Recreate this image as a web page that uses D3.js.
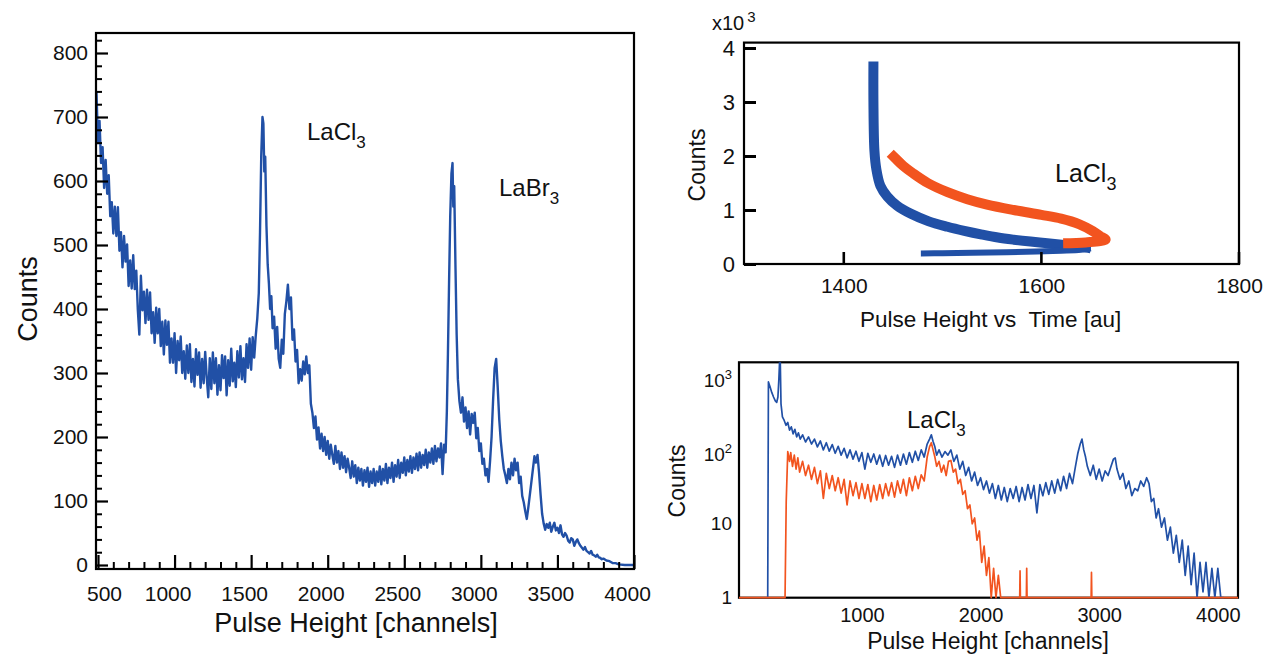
<!DOCTYPE html>
<html>
<head>
<meta charset="utf-8">
<script src="https://cdn.jsdelivr.net/npm/d3@7"></script>
<style>
  body { margin: 0; background: #fff; }
  svg text { font-family: "Liberation Sans", Arial, sans-serif; fill: #111; }
</style>
</head>
<body>
<div id="main"></div>
<script>
// ---- left panel: spectrum [channel, counts]
const leftTicksX = [500, 1000, 1500, 2000, 2500, 3000, 3500, 4000];
const leftTicksY = [0, 100, 200, 300, 400, 500, 600, 700, 800];
const leftSpectrum = [
  [490,740],[500,659],[510,694],[520,628],[530,653],[540,589],[550,633],[560,580],[570,609],[580,545],
  [590,567],[600,518],[610,560],[620,514],[630,559],[640,491],[650,520],[660,465],[670,514],[680,474],
  [690,501],[700,436],[710,476],[720,432],[730,484],[740,431],[750,460],[760,399],[770,360],[780,452],
  [790,398],[800,427],[810,378],[820,430],[830,383],[840,426],[850,362],[860,395],[870,347],[880,402],
  [890,362],[900,400],[910,342],[920,380],[930,329],[940,382],[950,344],[960,380],[970,316],[980,354],
  [990,316],[1000,362],[1010,300],[1020,350],[1030,320],[1040,357],[1050,300],[1060,334],[1070,291],[1080,343],
  [1090,300],[1100,345],[1110,286],[1120,322],[1130,279],[1140,337],[1150,297],[1160,332],[1170,277],[1180,322],
  [1190,284],[1200,333],[1210,293],[1220,262],[1230,323],[1240,275],[1250,332],[1260,284],[1270,323],[1280,266],
  [1290,312],[1300,273],[1310,328],[1320,292],[1330,326],[1340,265],[1350,320],[1360,280],[1370,338],[1380,287],
  [1390,316],[1400,278],[1410,334],[1420,293],[1430,342],[1440,290],[1450,323],[1460,286],[1470,345],[1480,308],
  [1490,354],[1500,305],[1510,356],[1520,324],[1530,358],[1540,385],[1550,425],[1558,520],
  [1566,640],[1574,700],[1580,690],[1586,615],[1592,638],[1600,530],[1608,470],[1616,440],[1624,400],[1632,420],
  [1640,370],[1650,388],[1660,338],[1670,372],[1680,322],[1690,308],[1700,352],[1710,330],[1720,392],[1730,412],
  [1740,438],[1750,400],[1760,418],[1770,352],[1780,368],[1790,318],[1800,336],[1810,284],[1820,306],[1830,288],
  [1840,318],[1850,298],[1860,326],[1870,300],[1880,312],[1890,252],[1900,238],[1910,214],[1920,232],[1930,196],
  [1940,215],[1950,182],[1960,205],[1970,178],[1980,200],[1990,172],[2000,194],[2010,166],[2020,188],[2030,172],
  [2040,158],[2050,186],[2060,160],[2070,178],[2080,150],[2090,176],[2100,152],[2110,170],[2120,145],[2130,166],
  [2140,152],[2150,136],[2160,162],[2170,138],[2180,156],[2190,128],[2200,152],[2210,132],[2220,150],[2230,124],
  [2240,148],[2250,130],[2260,152],[2270,122],[2280,146],[2290,128],[2300,150],[2310,124],[2320,146],[2330,130],
  [2340,154],[2350,126],[2360,150],[2370,132],[2380,158],[2390,128],[2400,152],[2410,136],[2420,160],[2430,130],
  [2440,156],[2450,138],[2460,164],[2470,136],[2480,160],[2490,144],[2500,168],[2510,140],[2520,164],[2530,146],
  [2540,170],[2550,144],[2560,168],[2570,150],[2580,174],[2590,148],[2600,176],[2610,152],[2620,172],[2630,156],
  [2640,180],[2650,152],[2660,176],[2670,160],[2680,182],[2690,158],[2700,186],[2710,162],[2720,182],[2730,168],
  [2740,190],[2750,142],[2760,188],[2770,176],[2778,240],[2785,330],[2793,450],[2800,545],[2808,612],[2815,628],
  [2820,560],[2826,592],[2834,470],[2842,360],[2850,290],[2860,256],[2870,238],[2880,262],[2890,224],[2900,246],
  [2910,214],[2920,240],[2930,204],[2940,236],[2950,222],[2960,238],[2970,198],[2980,214],[2990,178],[3000,190],
  [3010,158],[3020,166],[3030,140],[3040,150],[3050,130],[3060,162],[3070,200],[3080,258],[3090,308],[3100,322],
  [3110,278],[3120,228],[3130,194],[3140,170],[3150,150],[3160,140],[3170,128],[3180,150],[3190,134],[3200,160],
  [3210,140],[3220,166],[3230,148],[3240,160],[3250,128],[3260,138],[3270,108],[3280,98],[3290,84],[3300,72],
  [3310,90],[3320,110],[3330,130],[3340,150],[3350,170],[3360,160],[3370,172],[3380,144],[3390,110],[3400,80],
  [3410,65],[3420,55],[3430,64],[3440,58],[3450,66],[3460,52],[3470,60],[3480,66],[3490,54],[3500,58],
  [3510,50],[3520,62],[3530,48],[3540,44],[3550,50],[3560,46],[3570,38],[3580,35],[3590,42],[3600,40],
  [3610,30],[3620,36],[3630,40],[3640,34],[3650,30],[3660,27],[3670,24],[3680,28],[3690,22],[3700,20],
  [3710,18],[3720,22],[3730,16],[3740,15],[3750,13],[3760,16],[3770,12],[3780,11],[3790,9],[3800,10],
  [3820,7],[3840,6],[3860,3],[3880,3],[3900,1],[3940,0],[4000,0]
];

// ---- top right panel: pulse height vs time [time, counts]
const trTicksX = [1400, 1600, 1800];
const trTicksY = [0, 1000, 2000, 3000, 4000];
const trBlueHook = [
  [1430,3750],[1430,3000],[1431,2100],[1433,1750],[1437,1450],[1444,1250],[1454,1080],[1468,930],
  [1486,790],[1505,690],[1522,615],[1540,545],[1556,490],[1572,450],[1589,415],[1606,385],[1623,352],
  [1640,318],[1650,290]
];
const trBlueTail = [
  [1650,290],[1640,262],[1620,245],[1595,230],[1565,218],[1530,208],[1500,200],[1478,196]
];
const trOrange = [
  [1447,2050],[1452,1960],[1460,1820],[1470,1680],[1485,1500],[1505,1330],[1525,1200],[1545,1100],
  [1572,1000],[1600,910],[1620,840],[1638,740],[1652,610],[1661,500],[1665,450],[1645,400],[1622,385]
];

// ---- bottom right panel: log spectra [channel, counts]
const brTicksX = [1000, 2000, 3000, 4000];
const brTicksY = [1, 10, 100, 1000];
const brBlue = [
  [206,1],[212,830],[225,720],[240,600],[255,520],[270,460],[282,440],[292,520],[300,900],[306,1550],
  [312,1550],[318,420],[330,280],[345,250],[360,215],[375,235],[390,185],[405,205],[420,165],[435,190],
  [450,150],[465,170],[480,140],[500,160],[525,128],[550,150],[575,120],[600,140],[625,110],[650,132],
  [675,100],[700,125],[725,96],[750,118],[775,90],[800,112],[825,85],[850,105],[875,78],[900,100],
  [925,75],[950,96],[975,70],[1000,92],[1025,55],[1050,90],[1075,68],[1100,88],[1125,64],[1150,85],
  [1175,60],[1200,84],[1225,62],[1250,82],[1275,58],[1300,85],[1325,62],[1350,88],[1375,64],[1400,92],
  [1425,68],[1450,96],[1475,72],[1500,100],[1525,80],[1550,120],[1570,140],[1585,160],[1600,130],[1615,110],
  [1630,85],[1650,100],[1675,80],[1700,95],[1725,85],[1750,100],[1775,70],[1800,85],[1825,55],[1850,70],
  [1875,45],[1900,58],[1925,38],[1950,50],[1975,33],[2000,42],[2025,29],[2050,38],[2075,26],[2100,35],
  [2125,22],[2150,33],[2175,21],[2200,31],[2225,20],[2250,30],[2275,22],[2300,32],[2325,20],[2350,31],
  [2375,21],[2400,34],[2425,22],[2450,33],[2475,14],[2500,34],[2525,24],[2550,36],[2575,25],[2600,38],
  [2625,26],[2650,40],[2675,28],[2700,44],[2725,30],[2750,48],[2775,35],[2800,60],[2820,90],[2840,120],
  [2855,140],[2870,100],[2885,80],[2900,60],[2925,45],[2950,62],[2975,40],[3000,55],[3025,38],[3050,52],
  [3075,45],[3100,60],[3120,75],[3135,78],[3150,55],[3175,40],[3200,48],[3225,30],[3250,38],[3275,24],
  [3300,30],[3325,28],[3350,38],[3375,32],[3400,42],[3420,35],[3440,20],[3460,22],[3480,12],[3500,16],
  [3525,9],[3550,12],[3575,6],[3600,9],[3625,4],[3650,7],[3675,3],[3700,6],[3725,2],[3750,5],
  [3775,1.5],[3800,4],[3825,1],[3850,3],[3875,1.2],[3900,3],[3925,1],[3950,2.5],[3975,1],[4000,2.5],
  [4025,1],[4050,1]
];
const brOrange = [
  [-36,1],[352,1],[362,20],[375,95],[390,70],[400,92],[415,60],[430,85],[445,55],[460,78],
  [475,50],[500,70],[525,45],[550,62],[575,40],[600,58],[625,35],[650,52],[675,22],[700,48],
  [725,30],[750,45],[775,28],[800,42],[825,26],[850,40],[875,18],[900,38],[925,24],[950,36],
  [975,22],[1000,35],[1025,22],[1050,34],[1075,20],[1100,33],[1125,21],[1150,34],[1175,22],[1200,35],
  [1225,24],[1250,36],[1275,23],[1300,38],[1325,26],[1350,40],[1375,24],[1400,42],[1425,28],[1450,44],
  [1475,30],[1500,46],[1525,38],[1550,80],[1570,110],[1585,125],[1600,100],[1615,80],[1630,60],[1650,70],
  [1670,50],[1690,62],[1710,45],[1730,70],[1750,72],[1770,50],[1790,55],[1810,35],[1830,40],[1850,25],
  [1870,28],[1890,16],[1910,18],[1930,10],[1950,12],[1970,6],[1990,8],[2010,3],[2030,5],[2050,2],
  [2070,3.5],[2090,1],[2110,2.5],[2130,1],[2150,2],[2170,1],[2330,1],[2333,2.3],[2336,1],[2386,1],
  [2389,2.5],[2392,1],[2932,1],[2935,2.2],[2938,1],[4170,1]
];

const blue = '#2150a6';
const orange = '#f2541f';

const svg = d3.select('#main').append('svg')
  .attr('width', 1268)
  .attr('height', 657);

function clip(id, x0, y0, x1, y1) {
  svg.append('clipPath').attr('id', id)
    .append('rect').attr('x', x0).attr('y', y0).attr('width', x1 - x0).attr('height', y1 - y0);
}

function frame(x0, y0, x1, y1) {
  svg.append('rect')
    .attr('x', x0).attr('y', y0).attr('width', x1 - x0).attr('height', y1 - y0)
    .attr('fill', 'none').attr('stroke', '#000').attr('stroke-width', 2.2);
}

function label(x, y, main, sub, size, subSize, shift) {
  const t = svg.append('text').attr('x', x).attr('y', y).attr('font-size', size);
  t.append('tspan').text(main);
  t.append('tspan').attr('font-size', subSize).attr('dy', shift).text(sub);
  return t;
}

function cleanAxis(g, size, width) {
  g.select('.domain').remove();
  g.selectAll('line').attr('stroke', '#000').attr('stroke-width', width);
  g.selectAll('text').attr('font-size', size).attr('fill', '#111')
    .style('font-family', '"Liberation Sans", Arial, sans-serif');
}

// ================= left panel =================
const L = { x0: 96, x1: 634, y0: 33, y1: 569 };
const xL = d3.scaleLinear().domain([487, 4000]).range([L.x0, L.x1]);
const yL = d3.scaleLinear().domain([-6.25, 831.25]).range([L.y1, L.y0]);

clip('clipL', L.x0, L.y0, L.x1, L.y1);
svg.append('path')
  .datum(leftSpectrum)
  .attr('clip-path', 'url(#clipL)')
  .attr('fill', 'none')
  .attr('stroke', blue)
  .attr('stroke-width', 2.4)
  .attr('stroke-linejoin', 'round')
  .attr('d', d3.line().x(d => xL(d[0])).y(d => yL(d[1])));

const gLx = svg.append('g').attr('transform', `translate(0,${L.y1})`)
  .call(d3.axisBottom(xL).tickValues(leftTicksX).tickSize(-14).tickFormat(d3.format('d')));
cleanAxis(gLx, 21, 2.2);
gLx.selectAll('text').attr('y', 32).attr('dy', 0).attr('dx', d => d === 500 ? 6 : -7);

const gLxm = svg.append('g').attr('transform', `translate(0,${L.y1})`)
  .call(d3.axisBottom(xL).tickValues(d3.range(600, 4000, 100).filter(v => v % 500)).tickSize(-7).tickFormat(''));
cleanAxis(gLxm, 21, 2);

const gLy = svg.append('g').attr('transform', `translate(${L.x0},0)`)
  .call(d3.axisLeft(yL).tickValues(leftTicksY).tickSize(-12).tickPadding(8));
cleanAxis(gLy, 21, 2.2);

const gLym = svg.append('g').attr('transform', `translate(${L.x0},0)`)
  .call(d3.axisLeft(yL).tickValues(d3.range(20, 831, 20).filter(v => v % 100)).tickSize(-6).tickFormat(''));
cleanAxis(gLym, 21, 2);

frame(L.x0, L.y0, L.x1, L.y1);

svg.append('text').attr('x', 356).attr('y', 632).attr('text-anchor', 'middle')
  .attr('font-size', 27).text('Pulse Height [channels]');
svg.append('text').attr('transform', 'translate(37,299) rotate(-90)').attr('text-anchor', 'middle')
  .attr('font-size', 27).text('Counts');

label(307, 140, 'LaCl', '3', 24, 17, 8);
label(499, 196, 'LaBr', '3', 24, 17, 8);

// ================= top right panel =================
const T = { x0: 744, x1: 1239, y0: 42.6, y1: 264 };
const xT = d3.scaleLinear().domain([1299, 1800]).range([T.x0, T.x1]);
const yT = d3.scaleLinear().domain([0, 4100]).range([T.y1, T.y0]);

clip('clipT', T.x0, T.y0, T.x1, T.y1);
const lineT = d3.line().x(d => xT(d[0])).y(d => yT(d[1])).curve(d3.curveCatmullRom);
const gT = svg.append('g').attr('clip-path', 'url(#clipT)');
gT.append('path').datum(trBlueHook)
  .attr('fill', 'none').attr('stroke', blue).attr('stroke-width', 10).attr('stroke-linejoin', 'round')
  .attr('d', lineT);
gT.append('path').datum(trBlueTail)
  .attr('fill', 'none').attr('stroke', blue).attr('stroke-width', 6).attr('stroke-linejoin', 'round')
  .attr('d', lineT);
gT.append('path').datum(trOrange)
  .attr('fill', 'none').attr('stroke', orange).attr('stroke-width', 10).attr('stroke-linejoin', 'round')
  .attr('d', lineT);

const gTx = svg.append('g').attr('transform', `translate(0,${T.y1})`)
  .call(d3.axisBottom(xT).tickValues(trTicksX).tickSize(0).tickFormat(d3.format('d')));
cleanAxis(gTx, 21, 2.6);
gTx.selectAll('text').attr('y', 29).attr('dy', 0);
// inward ticks on the time axis
svg.append('g').selectAll('line')
  .data(trTicksX)
  .join('line')
  .attr('x1', d => xT(d)).attr('x2', d => xT(d))
  .attr('y1', T.y1).attr('y2', T.y1 - 12)
  .attr('stroke', '#000').attr('stroke-width', 2.6);

const gTy = svg.append('g').attr('transform', `translate(${T.x0},0)`)
  .call(d3.axisLeft(yT).tickValues(trTicksY).tickSize(-12).tickPadding(9).tickFormat(d => d / 1000));
cleanAxis(gTy, 22, 3);

frame(T.x0, T.y0, T.x1, T.y1);

const mult = svg.append('text').attr('x', 712).attr('y', 30).attr('font-size', 20);
mult.append('tspan').text('x10');
mult.append('tspan').attr('font-size', 15).attr('dx', 3).attr('dy', -8).text('3');

svg.append('text').attr('x', 860).attr('y', 327).attr('font-size', 22.5)
  .attr('xml:space', 'preserve').style('white-space', 'pre')
  .text('Pulse Height vs  Time [au]');
svg.append('text').attr('transform', 'translate(705,165) rotate(-90)').attr('text-anchor', 'middle')
  .attr('font-size', 23).text('Counts');

label(1055, 182, 'LaCl', '3', 25, 18, 8);

// ================= bottom right panel =================
const B = { x0: 739, x1: 1238, y0: 362.3, y1: 597.7 };
const xB = d3.scaleLinear().domain([-36, 4170]).range([B.x0, B.x1]);
const yB = d3.scaleLog().domain([1, 1532]).range([B.y1, B.y0]);

frame(B.x0, B.y0, B.x1, B.y1);

clip('clipB', B.x0, B.y0, B.x1, B.y1 + 1.5);
const lineB = d3.line().x(d => xB(d[0])).y(d => yB(d[1]));
const gB = svg.append('g').attr('clip-path', 'url(#clipB)');
gB.append('path').datum(brBlue)
  .attr('fill', 'none').attr('stroke', blue).attr('stroke-width', 1.7).attr('stroke-linejoin', 'round')
  .attr('d', lineB);
gB.append('path').datum(brOrange)
  .attr('fill', 'none').attr('stroke', orange).attr('stroke-width', 1.7).attr('stroke-linejoin', 'round')
  .attr('d', lineB);

const gBx = svg.append('g').attr('transform', `translate(0,${B.y1})`)
  .call(d3.axisBottom(xB).tickValues(brTicksX).tickSize(0).tickFormat(d3.format('d')));
cleanAxis(gBx, 20, 1);
gBx.selectAll('text').attr('y', 24).attr('dy', 0);

const gBy = svg.append('g').attr('transform', `translate(${B.x0},0)`)
  .call(d3.axisLeft(yB).tickValues(brTicksY).tickSize(0).tickPadding(7).tickFormat(''));
cleanAxis(gBy, 19, 1);
gBy.selectAll('text').each(function (d) {
  const t = d3.select(this);
  if (d < 100) {
    t.text(d);
  } else {
    t.append('tspan').text('10');
    t.append('tspan').attr('font-size', 13).attr('dy', -8).text(Math.round(Math.log10(d)));
    t.attr('dy', '0.55em');
  }
});

svg.append('text').attr('x', 988).attr('y', 649).attr('text-anchor', 'middle')
  .attr('font-size', 23).text('Pulse Height [channels]');
svg.append('text').attr('transform', 'translate(685,481) rotate(-90)').attr('text-anchor', 'middle')
  .attr('font-size', 23).text('Counts');

label(907, 428, 'LaCl', '3', 24, 17, 8);
</script>
</body>
</html>
